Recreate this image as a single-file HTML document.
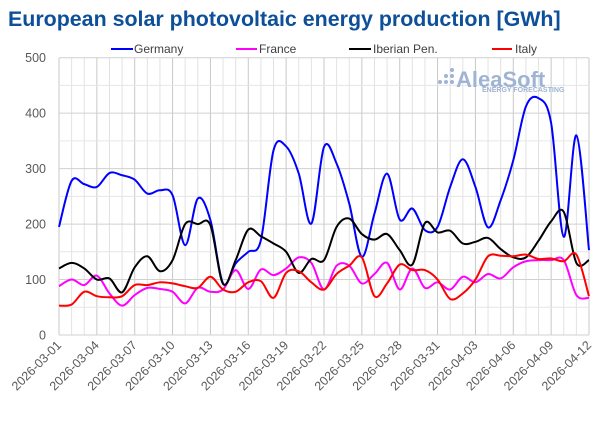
<!DOCTYPE html>
<html><head><meta charset="utf-8"><style>
body{margin:0;background:#fff;width:600px;height:418px;overflow:hidden;font-family:"Liberation Sans",sans-serif}
</style></head><body>
<svg id="s" width="600" height="418" xmlns="http://www.w3.org/2000/svg">
<text x="8" y="26" font-size="21.4" font-weight="bold" fill="#0e4f99" font-family="Liberation Sans, sans-serif">European solar photovoltaic energy production [GWh]</text>
<g id="grid"></g>
<g font-size="12.5" fill="#595959" text-anchor="end" id="yl"></g>
<g font-size="12.5" fill="#595959" id="xl"></g>
<g font-size="12" fill="#404040">
<line x1="111" y1="49" x2="133" y2="49" stroke="#0000ff" stroke-width="2"/><text x="134" y="53">Germany</text>
<line x1="236" y1="49" x2="257" y2="49" stroke="#ff00ff" stroke-width="2"/><text x="259" y="53">France</text>
<line x1="349" y1="49" x2="371" y2="49" stroke="#000" stroke-width="2"/><text x="373" y="53">Iberian Pen.</text>
<line x1="492" y1="49" x2="512" y2="49" stroke="#ff0000" stroke-width="2"/><text x="515" y="53">Italy</text>
</g>
<g fill="#9fb4d4">
<circle cx="440" cy="82" r="2"/><circle cx="446" cy="82" r="2"/><circle cx="452" cy="82" r="2"/><circle cx="446" cy="76" r="2"/><circle cx="452" cy="76" r="2"/><circle cx="452" cy="70" r="2"/>
<text x="456" y="87" font-size="22" font-weight="bold">AleaSoft</text>
<text x="482" y="92" font-size="7" font-weight="bold">ENERGY FORECASTING</text>
</g>
<g id="lines" fill="none" stroke-width="2"></g>
</svg>
<script>
var L=59,R=589,T=57.7,B=335,N=42;
function X(i){return L+(R-L)*i/N}
function Y(v){return B-(B-T)*v/500}
var g='';
for(var i=0;i<=N;i++){var x=X(i);g+='<line x1="'+x+'" y1="'+T+'" x2="'+x+'" y2="'+B+'" stroke="'+(i%3==0?'#c8c8c8':'#e2e2e2')+'" stroke-width="1"/>';}
for(var v=0;v<=500;v+=50){var y=Y(v);g+='<line x1="'+L+'" y1="'+y+'" x2="'+R+'" y2="'+y+'" stroke="'+(v%100==0?'#d0d0d0':'#e6e6e6')+'" stroke-width="1"/>';}
document.getElementById('grid').innerHTML=g;
var yl='';for(var v=0;v<=500;v+=100)yl+='<text x="46" y="'+(Y(v)+4.5)+'">'+v+'</text>';
document.getElementById('yl').innerHTML=yl;
var xl='';
for(var i=0;i<=N;i+=3){var d=new Date(Date.UTC(2026,2,1+i));var s=d.toISOString().slice(0,10);var x=X(i)+3,y=346;
xl+='<text text-anchor="end" transform="translate('+x+','+y+') rotate(-45)">'+s+'</text>';}
document.getElementById('xl').innerHTML=xl;
var D={
'#0000ff':[195,278,272,267,292,288,280,255,261,252,162,246,207,93,129,150,171,333,340,291,201,339,309,237,141,219,291,208,228,189,195,267,317,267,194,243,315,412,427,382,177,360,153],
'#ff00ff':[88,100,90,107,75,53,72,85,83,78,57,85,78,82,117,83,118,108,120,140,130,82,125,125,93,110,130,82,120,85,95,82,105,95,110,102,122,133,135,135,135,72,67],
'#000000':[120,130,120,100,102,77,122,142,115,135,200,200,198,92,135,190,178,165,150,112,137,135,195,210,182,172,182,153,127,202,185,188,165,168,175,155,140,140,170,205,222,130,135],
'#ff0000':[53,55,78,70,68,70,90,90,95,93,88,85,105,82,78,95,97,67,112,115,95,82,110,125,140,70,93,127,117,117,100,65,75,100,142,143,142,145,137,138,133,145,70]};
var h='';
for(var c in D){var a=D[c],p=a.map(function(v,i){return[X(i),Y(v)]});
var d='M'+p[0][0]+','+p[0][1];
for(var i=0;i<p.length-1;i++){var p0=p[i-1]||p[i],p1=p[i],p2=p[i+1],p3=p[i+2]||p2;
d+=' C'+(p1[0]+(p2[0]-p0[0])/6)+','+(p1[1]+(p2[1]-p0[1])/6)+' '+(p2[0]-(p3[0]-p1[0])/6)+','+(p2[1]-(p3[1]-p1[1])/6)+' '+p2[0]+','+p2[1];}
h+='<path d="'+d+'" stroke="'+c+'"/>';}
document.getElementById('lines').innerHTML=h;
</script>
</body></html>
